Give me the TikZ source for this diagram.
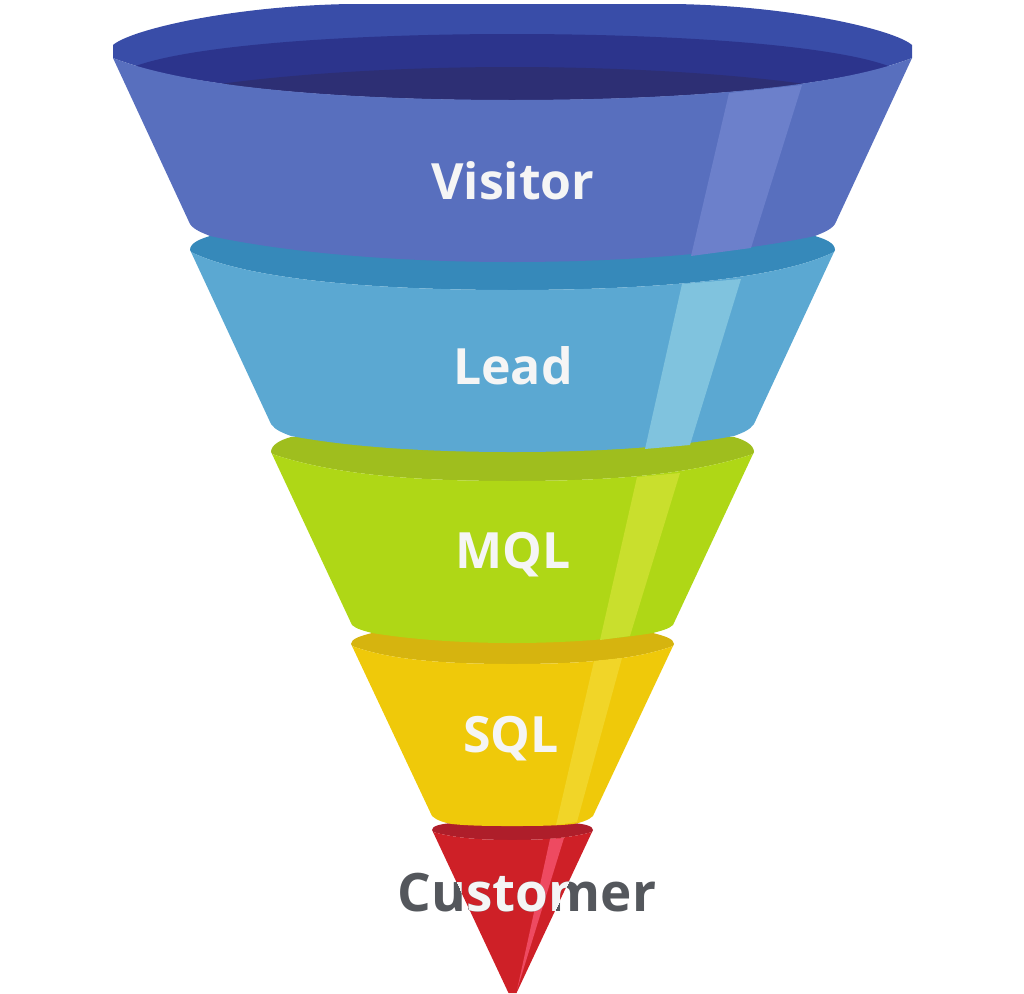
\documentclass[tikz,border=0pt]{standalone}
\usepackage{xcolor}
\usepackage{fontspec}
\setmainfont{Open Sans}
\definecolor{visitorrim}{HTML}{394DA8}
\definecolor{visitormid}{HTML}{2C348C}
\definecolor{visitordark}{HTML}{2D2F74}
\definecolor{visitorbody}{HTML}{586FBE}
\definecolor{visitorshine}{HTML}{6C80CB}
\definecolor{leadrim}{HTML}{3689BA}
\definecolor{leadbody}{HTML}{5BA8D2}
\definecolor{leadshine}{HTML}{80C3DE}
\definecolor{mqlrim}{HTML}{9FBE1E}
\definecolor{mqlbody}{HTML}{AFD716}
\definecolor{mqlshine}{HTML}{C9DF2D}
\definecolor{sqlrim}{HTML}{D6B40F}
\definecolor{sqlbody}{HTML}{EFC90A}
\definecolor{sqlshine}{HTML}{F1D528}
\definecolor{customerrim}{HTML}{AE1E2A}
\definecolor{customerbody}{HTML}{CE2027}
\definecolor{customershine}{HTML}{EE4A61}
\definecolor{labelgray}{HTML}{54575C}
\tikzset{
  bandlabel/.style={font=\fontsize{50}{50}\selectfont\bfseries, text=white!96!black, inner sep=0pt, anchor=base},
  tiplabel/.style={bandlabel, font=\fontsize{53}{53}\selectfont\bfseries},
  outlabel/.style={tiplabel, text=labelgray}
}

\begin{document}
\begin{tikzpicture}[x=1pt,y=-1pt]
  \useasboundingbox (0,0) rectangle (1024,993);

  % Customer cone
  \fill[customerrim] (433,832) -- (432,830) .. controls (432,826) and (440,824) .. (452,823) .. controls (470,821) and (495,821) .. (512,821) .. controls (530,821) and (555,821) .. (573,823) .. controls (585,824) and (593,826) .. (593,830) -- (592,832) .. controls (570,838) and (545,840) .. (512,840) .. controls (480,840) and (455,838) .. (433,832) -- cycle;
  \fill[customerbody] (433,832) .. controls (455,838) and (480,840) .. (512,840) .. controls (545,840) and (570,838) .. (592,832) -- (516.5,993) -- (508.5,993) -- cycle;
  \fill[customershine] (550,839) -- (564,838) -- (517,990) -- cycle;
  \node[outlabel] (customerout) at (527,911) {Customer};
  \begin{scope}
    \clip (433,832) .. controls (455,838) and (480,840) .. (512,840) .. controls (545,840) and (570,838) .. (592,832) -- (516.5,993) -- (508.5,993) -- cycle;
    \node[tiplabel] (customer) at (527,911) {Customer};
  \end{scope}

  % SQL band
  \fill[sqlrim] (352,646) -- (351,644) .. controls (351,639) and (360,636) .. (372,633) .. controls (420,630) and (470,630) .. (512,630) .. controls (555,630) and (605,630) .. (653,633) .. controls (665,636) and (674,639) .. (674,644) -- (673,646) .. controls (635,660) and (580,664) .. (512,664) .. controls (445,664) and (390,660) .. (352,646) -- cycle;
  \fill[sqlbody] (352,646) .. controls (390,660) and (445,664) .. (512,664) .. controls (580,664) and (635,660) .. (673,646) -- (593,816) .. controls (589,820) and (580,823) .. (573,824) .. controls (555,826) and (530,826) .. (512,826) .. controls (495,826) and (470,826) .. (452,824) .. controls (445,823) and (436,820) .. (432,816) -- cycle;
  \fill[sqlshine] (594,661) -- (622,658) -- (577,822) -- (556,825) -- cycle;
  \node[bandlabel] (sql) at (511,752) {SQL};

  % MQL band
  \fill[mqlrim] (272,454) -- (271,452) .. controls (271,445) and (280,440) .. (291,437) .. controls (350,433) and (430,431) .. (512,431) .. controls (595,431) and (675,433) .. (734,437) .. controls (745,440) and (754,445) .. (754,452) -- (753,454) .. controls (690,475) and (610,481) .. (512,481) .. controls (415,481) and (335,475) .. (272,454) -- cycle;
  \fill[mqlbody] (272,454) .. controls (335,475) and (415,481) .. (512,481) .. controls (610,481) and (690,475) .. (753,454) -- (673,625) .. controls (669,629) and (660,631) .. (653,633) .. controls (610,640) and (560,643) .. (512,643) .. controls (465,643) and (415,640) .. (372,633) .. controls (365,631) and (356,629) .. (352,625) -- cycle;
  \fill[mqlshine] (637,477) -- (680,473) -- (630,636) -- (600,640) -- cycle;
  \node[bandlabel] (mql) at (513,568) {MQL};

  % Lead band
  \fill[leadrim] (191,252) -- (190,250) .. controls (190,243) and (200,239) .. (210,236) .. controls (300,228) and (400,225) .. (512,225) .. controls (625,225) and (725,228) .. (815,236) .. controls (825,239) and (835,243) .. (835,250) -- (834,252) .. controls (775,281) and (640,290) .. (512,290) .. controls (385,290) and (250,281) .. (191,252) -- cycle;
  \fill[leadbody] (191,252) .. controls (250,281) and (385,290) .. (512,290) .. controls (640,290) and (775,281) .. (834,252) -- (754,424) .. controls (750,430) and (742,433) .. (734,436) .. controls (670,448) and (590,452) .. (512,452) .. controls (435,452) and (355,448) .. (291,436) .. controls (283,433) and (275,430) .. (271,424) -- cycle;
  \fill[leadshine] (682,284) -- (741,279) -- (690,445) -- (645,449) -- cycle;
  \node[bandlabel] (lead) at (513,384) {Lead};

  % Visitor band
  \fill[visitorrim] (113,58) -- (113,45) .. controls (130,30) and (230,6) .. (350,4) -- (675,4) .. controls (795,6) and (895,30) .. (912,45) -- (912,58) .. controls (830,90) and (665,100) .. (512,100) .. controls (360,100) and (195,90) .. (113,58) -- cycle;
  \fill[visitormid] (133,67) .. controls (190,45) and (350,34) .. (512,34) .. controls (675,34) and (835,45) .. (891,67) .. controls (800,90) and (660,100) .. (512,100) .. controls (365,100) and (225,90) .. (133,67) -- cycle;
  \fill[visitordark] (220,84) .. controls (300,73) and (410,67) .. (512,67) .. controls (615,67) and (725,73) .. (805,84) .. controls (720,95) and (620,100) .. (512,100) .. controls (405,100) and (305,95) .. (220,84) -- cycle;
  \fill[visitorbody] (113,58) .. controls (195,90) and (360,100) .. (512,100) .. controls (665,100) and (830,90) .. (912,58) -- (835,224) .. controls (831,230) and (822,233) .. (815,236) .. controls (730,254) and (620,262) .. (512,262) .. controls (405,262) and (295,254) .. (210,236) .. controls (203,233) and (194,230) .. (190,224) -- cycle;
  \fill[visitorshine] (729,93) -- (802,85) -- (751,248) -- (691,256) -- cycle;
  \node[bandlabel] (visitor) at (513,199) {Visitor};
\end{tikzpicture}
\end{document}
